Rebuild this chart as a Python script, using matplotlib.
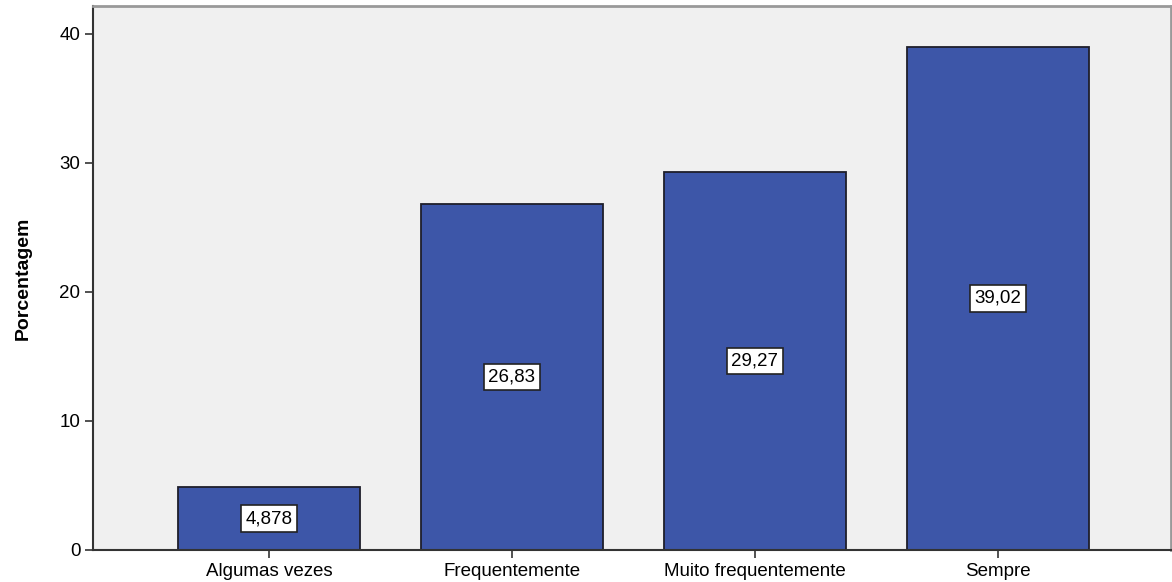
import matplotlib.pyplot as plt

categorias = ["Algumas vezes", "Frequentemente", "Muito frequentemente", "Sempre"]
porcentagem = [4.878, 26.83, 29.27, 39.02]
rotulos = ["4,878", "26,83", "29,27", "39,02"]
yticks = [0, 10, 20, 30, 40]

plt.rcParams['font.family'] = ['Liberation Sans', 'DejaVu Sans']

fig = plt.figure(figsize=(11.72, 5.82), dpi=100)
ax = fig.add_axes([93/1172, 1 - 550/582, (1171-93)/1172, (550-6)/582])
ax.set_facecolor("#F0F0F0")

x = range(len(categorias))
ax.bar(x, porcentagem, width=0.75, color="#3D56A8", edgecolor="#1E1E2A", linewidth=1.3, zorder=2)

for i in x:
    ax.text(i, porcentagem[i] / 2, rotulos[i], ha="center", va="center", fontsize=13.5,
            bbox=dict(boxstyle="square,pad=0.25", facecolor="white", edgecolor="#222222", linewidth=1.2),
            zorder=3)

ax.set_xlim(-0.724, 3.712)
ax.set_ylim(0, 42.17)
ax.set_xticks(list(x))
ax.set_xticklabels(categorias, fontsize=13.5)
ax.set_yticks(yticks)
ax.set_yticklabels([str(v) for v in yticks], fontsize=13.5)
ax.tick_params(axis="both", length=6, width=1.2, color="#333333", pad=3)

ax.set_ylabel("Porcentagem", fontsize=14, fontweight="bold", labelpad=20)

for s in ["left", "bottom"]:
    ax.spines[s].set_color("#333333")
    ax.spines[s].set_linewidth(1.5)
for s in ["top", "right"]:
    ax.spines[s].set_color("#999999")
    ax.spines[s].set_linewidth(2)

fig.savefig("out.png", dpi=100)
